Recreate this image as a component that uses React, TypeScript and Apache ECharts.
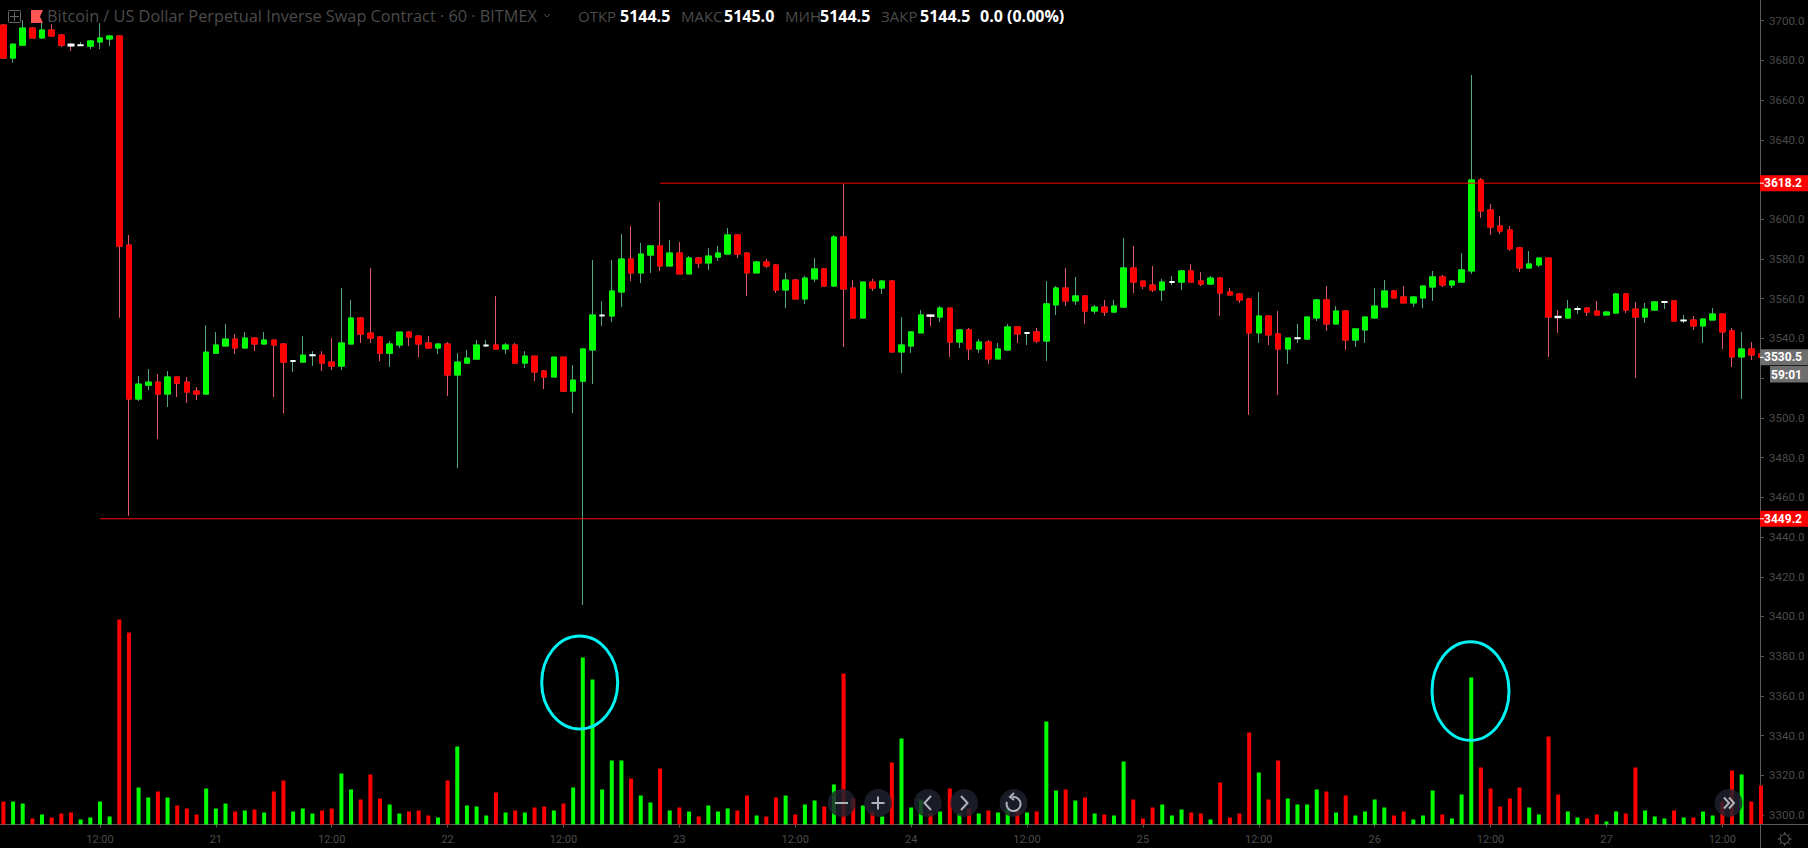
import React, { useEffect, useRef } from 'react';
import * as echarts from 'echarts';

const HOUR = 3600000;
const firstHour = Date.UTC(2019, 0, 20, 2);

const opens = [
  3697.8, 3681.2, 3687.7, 3696.3, 3691.3, 3695.3, 3692.8, 3688, 3687.6, 3687.2, 3689.3, 3690.8, 3692.3, 3587,
  3509.5, 3516.5, 3518, 3512, 3520.6, 3518, 3513.5, 3512, 3532.6, 3536.2, 3539.7, 3535.2, 3540.2, 3537.2, 3539.2, 3537.2,
  3528.6, 3528.1, 3531.5, 3531.6, 3528.1, 3526.1, 3537.2, 3550.3, 3542.7, 3540.7, 3532.6, 3536.7, 3543.2, 3541.2, 3537.7, 3535.2,
  3537.2, 3521.6, 3527.6, 3529.6, 3536.5, 3536.7, 3534.7, 3536.7, 3527.6, 3531.1, 3523.6, 3520.6, 3530.6, 3513.5, 3518.5, 3534.2,
  3551.6, 3551.3, 3563.4, 3580, 3573, 3582, 3586.6, 3576.5, 3583, 3572.5, 3580.5, 3578, 3581, 3582.5, 3592.1, 3583, 3573,
  3578.5, 3577, 3564.4, 3569.4, 3559.9, 3570, 3575, 3566.4, 3591.1, 3565.4, 3550.3, 3568.4, 3565.4, 3568.9, 3533.2, 3536.2, 3542.8,
  3551.6, 3550.8, 3555.3, 3538.2, 3544.3, 3534.7, 3538.2, 3529.7, 3534.2, 3545.8, 3542.8, 3543.3, 3538.7, 3556.9, 3565.4, 3558.9,
  3561.4, 3553.8, 3555.8, 3553.3, 3555.8, 3575.5, 3568.9, 3566.9, 3564.4, 3568.4, 3568.4, 3574, 3568.9, 3567.4, 3570.4, 3563.4,
  3562.4, 3559.9, 3542.8, 3551.3, 3542.3, 3534.7, 3540.1, 3539.7, 3550.3, 3559.4, 3547.3, 3553.8, 3539.2, 3544.3, 3550.3, 3555.8,
  3563.9, 3560.9, 3557.9, 3560.4, 3565.9, 3571, 3566.9, 3568.4, 3574, 3619.8, 3604.7, 3596.6, 3594.6, 3585.6, 3575.5, 3577, 3580.5,
  3550.9, 3550.3, 3554.8, 3555.3, 3553.8, 3551.8, 3552.8, 3562.4, 3554.8, 3550.8, 3554.3, 3558.4, 3558.9, 3549.1, 3549.3, 3546.3,
  3549.3, 3552.3, 3543.8, 3530.7, 3534.7, 3532.2,
];
const closes = [
  3681.2, 3688.2, 3696.3, 3691.3, 3695.3, 3692.3, 3687.7, 3687.5, 3687.6, 3689.8, 3691.3, 3692.3, 3586.5, 3509.5,
  3517, 3518, 3512, 3520.6, 3517.5, 3513, 3512, 3533.1, 3536.7, 3539.7, 3535.2, 3540.2, 3537.2, 3539.2, 3536.7, 3528.1,
  3528.6, 3531.6, 3531.5, 3527.6, 3526.1, 3537.7, 3550.3, 3542.2, 3540.2, 3532.6, 3537.2, 3543.2, 3540.7, 3537.2, 3535.2, 3537.2,
  3521.6, 3528.1, 3530.1, 3536.7, 3536.5, 3534.7, 3536.7, 3527.6, 3531.1, 3523.1, 3520.6, 3530.6, 3513.5, 3519, 3534.7, 3551.8,
  3551.6, 3563.9, 3580, 3573, 3582.5, 3586.6, 3576.5, 3583, 3572.5, 3580.5, 3578, 3581.5, 3583, 3592.1, 3582.5, 3573, 3578.5,
  3576.5, 3564.4, 3569.4, 3559.9, 3570.4, 3575, 3566.4, 3591.1, 3564.9, 3550.3, 3568.4, 3565.4, 3568.9, 3533.2, 3536.7, 3543.3, 3551.8,
  3551.4, 3555.3, 3538.2, 3544.3, 3534.7, 3538.2, 3529.7, 3534.7, 3545.8, 3542.3, 3542.8, 3538.7, 3557.4, 3565.4, 3558.9, 3561.4,
  3553.8, 3555.8, 3553.3, 3556.3, 3575.5, 3568.4, 3566.4, 3564.4, 3568.4, 3568.4, 3574, 3568.4, 3567.4, 3570.4, 3562.9, 3561.9,
  3559.4, 3542.8, 3551.3, 3541.8, 3534.7, 3540.2, 3540.1, 3550.8, 3559.4, 3547.3, 3553.8, 3539.2, 3544.8, 3550.8, 3556.3, 3563.9,
  3560.4, 3557.9, 3560.9, 3566.4, 3571, 3566.9, 3568.9, 3574.5, 3619.8, 3604.2, 3596.1, 3594.1, 3585.1, 3575.5, 3577.5, 3580.5, 3550.8,
  3550.7, 3554.8, 3554.8, 3553.3, 3551.8, 3553.3, 3562.4, 3554.3, 3550.8, 3554.8, 3558.4, 3558.4, 3548.8, 3549.1, 3546.3, 3549.8,
  3552.3, 3543.3, 3530.7, 3534.7, 3531.7, 3530.5,
];
const lows = [
  3681.2, 3678.8, 3687.7, 3691.3, 3691.3, 3692.3, 3686.7, 3684.7, 3687.6, 3685.7, 3685.7, 3687.2, 3550.4, 3450.7,
  3508.5, 3514, 3489.3, 3505.5, 3510.5, 3507.5, 3509, 3512, 3532.6, 3536.2, 3532.2, 3535.2, 3533.7, 3537.2, 3510.5, 3502.4,
  3523.1, 3528.1, 3526.1, 3523.6, 3524.1, 3524.1, 3537.2, 3537.7, 3537.7, 3528.6, 3525.6, 3535.2, 3536.2, 3530.6, 3535.2, 3532.2,
  3511, 3474.7, 3527.6, 3529.6, 3535.7, 3534.7, 3532.2, 3527.6, 3525.1, 3518.5, 3514.5, 3520.6, 3513, 3502.4, 3405.8, 3517,
  3546.2, 3548.3, 3555.8, 3568.9, 3567.9, 3573, 3574, 3576.5, 3572.5, 3572.5, 3575.5, 3574.5, 3579, 3582.5, 3580.5, 3561.4, 3573,
  3575.5, 3562.9, 3555.3, 3559.9, 3557.4, 3568.4, 3566.4, 3566.4, 3535.7, 3550.3, 3550.3, 3563.9, 3562.4, 3533.2, 3522.6, 3532.7, 3542.8,
  3546.3, 3548.3, 3530.7, 3535.2, 3529.2, 3532.7, 3527.2, 3529.7, 3534.2, 3537.7, 3536.7, 3537.7, 3528.7, 3551.8, 3556.3, 3556.9,
  3547.3, 3552.3, 3551.3, 3553.3, 3555.8, 3562.9, 3564.9, 3563.4, 3558.9, 3566.9, 3564.4, 3568.4, 3566.4, 3567.4, 3551.3, 3561.9,
  3557.9, 3501.5, 3537.7, 3536.7, 3511.5, 3527.2, 3537.7, 3539.7, 3548.8, 3543.8, 3547.3, 3534.2, 3535.7, 3537.7, 3550.3, 3555.8,
  3560.4, 3557.9, 3555.8, 3555.3, 3558.9, 3565.9, 3565.4, 3568.4, 3572.5, 3600.7, 3592.1, 3592.6, 3584.1, 3573.5, 3575.5, 3576, 3530.7,
  3542.8, 3550.3, 3552.3, 3551.3, 3551.8, 3551.8, 3552.3, 3552.8, 3520.1, 3547.8, 3554.3, 3554.8, 3548.8, 3547.8, 3544.3, 3537.7,
  3549.3, 3534.7, 3525.6, 3509.5, 3529.2, 3530.5,
];
const highs = [
  3698.3, 3688.2, 3700.3, 3696.8, 3699, 3698.3, 3693.3, 3688.6, 3689.3, 3690.3, 3698.8, 3692.8, 3692.8, 3592.1,
  3521.1, 3524.6, 3522.1, 3523.6, 3520.6, 3520.6, 3515.5, 3546.7, 3543.2, 3547.2, 3542.2, 3543.2, 3540.7, 3543.2, 3539.2, 3537.7,
  3529.1, 3541.2, 3533.6, 3533.6, 3540.2, 3565.4, 3559.3, 3550.8, 3575.5, 3541.2, 3538.7, 3543.2, 3543.7, 3541.7, 3541.2, 3537.2,
  3538.2, 3532.6, 3534.2, 3539.2, 3539.2, 3561.3, 3537.7, 3537.7, 3533.6, 3531.1, 3524.1, 3530.6, 3530.6, 3526.6, 3535.2, 3579.5,
  3558.8, 3579.5, 3592.6, 3596.6, 3588.1, 3586.6, 3608.7, 3589.6, 3588.6, 3581.5, 3581, 3585.5, 3586.6, 3595.6, 3592.1, 3583.5, 3579,
  3580, 3577.5, 3573, 3570, 3571.5, 3580.5, 3575.5, 3592.1, 3617.8, 3569.4, 3568.4, 3570, 3569.4, 3569.4, 3550.8, 3543.8, 3554.3,
  3552.3, 3556.3, 3555.3, 3544.8, 3545.3, 3539.7, 3539.2, 3537.7, 3547.3, 3545.8, 3543.2, 3545.3, 3568.9, 3566.4, 3575.5, 3571,
  3561.4, 3556.9, 3559.4, 3559.4, 3590.6, 3586.6, 3568.9, 3576.5, 3570, 3571.5, 3574.5, 3577.5, 3573.5, 3571.5, 3570.9, 3565.4,
  3562.9, 3560.4, 3563.4, 3551.3, 3553.8, 3540.2, 3547.3, 3550.8, 3559.9, 3566.4, 3556.3, 3554.3, 3544.8, 3550.8, 3565.4, 3569.4,
  3564.4, 3566.4, 3560.9, 3566.4, 3574, 3572, 3569.4, 3583, 3672.7, 3620.8, 3607.7, 3601.7, 3596.6, 3586.1, 3584, 3580.5, 3580.5,
  3554.3, 3559.4, 3556.3, 3555.8, 3558.9, 3553.8, 3562.9, 3562.9, 3558.4, 3557.9, 3558.4, 3558.9, 3558.9, 3551.8, 3551.3, 3549.8,
  3555.3, 3552.3, 3545.3, 3543.3, 3538.2, 3532.2,
];
const volumes = [
  23, 23, 21, 6, 10, 7, 11, 12, 5, 7, 23, 8, 205, 192, 37, 27, 33, 27, 19, 16, 10, 36, 16, 21, 13, 14, 15, 12, 33, 44,
  13, 16, 11, 14, 16, 51, 35, 25, 50, 26, 20, 11, 13, 14, 9, 7, 44, 78, 19, 18, 9, 32, 12, 14, 12, 17, 18, 14, 21, 37,
  167, 145, 35, 64, 64, 46, 29, 22, 56, 14, 17, 13, 8, 19, 13, 16, 14, 29, 9, 8, 27, 29, 10, 20, 24, 18, 40, 151, 26, 19,
  13, 8, 62, 86, 17, 25, 11, 13, 36, 11, 16, 11, 14, 12, 16, 14, 12, 13, 103, 34, 35, 24, 27, 11, 10, 9, 63, 25, 6, 17,
  20, 9, 15, 12, 11, 5, 42, 7, 11, 92, 52, 25, 64, 26, 20, 20, 35, 33, 12, 29, 9, 13, 25, 17, 9, 13, 5, 9, 34, 10,
  6, 30, 147, 57, 36, 18, 26, 37, 17, 10, 88, 30, 13, 7, 6, 10, 3, 13, 11, 57, 14, 8, 6, 14, 7, 7, 13, 9, 23, 54,
  50, 23, 39,
];

const resistance = 3618.2;
const support = 3449.2;
const lastPrice = 3530.5;
// off the canvas, or under a price tag in the reference
const unlabelledPrices = [3280, 3520, 3620, 3720];

const UP = '#00ff00';
const DOWN = '#ff0000';
const DOJI = '#ffffff';
const DIM = '#4b4b4b';
const AXIS = '#5c5c5c';
const FONT = 'Roboto, sans-serif';
const TITLE_FONT = '"Open Sans", sans-serif';

// x is the candle's index, one per hour; only noon and midnight carry a tick and a label
const candleIndex = opens.map((_, i) => i);
const dateOf = (i: number) => new Date(firstHour + i * HOUR);
const tickIndex = candleIndex.filter((i) => dateOf(i).getUTCHours() % 12 === 0);
// the plot ends where the y axis sits, a little before the last candle's centre
const xMin = -0.352;
const xMax = 181.9;

const isDoji = (i: number) => Math.abs(opens[i] - closes[i]) <= 0.5;

const wickData = candleIndex.map((i) => [i, opens[i], closes[i], lows[i], highs[i]]);
const bodyData = candleIndex.map((i) => ({
  value: [i, opens[i], closes[i], Math.min(opens[i], closes[i]), Math.max(opens[i], closes[i])],
  itemStyle: isDoji(i)
    ? { color: DOJI, color0: DOJI, borderColor: DOJI, borderColor0: DOJI, borderColorDoji: DOJI, borderWidth: 2 }
    : undefined,
}));
const volumeData = candleIndex.map((i) => ({
  value: [i, volumes[i]],
  itemStyle: { color: closes[i] < opens[i] ? DOWN : UP },
}));

const headerLabels = [
  { text: 'Bitcoin / US Dollar Perpetual Inverse Swap Contract · 60 · BITMEX', x: 47, fill: DIM, font: `16.3px ${TITLE_FONT}` },
  { text: 'ОТКР', x: 578, fill: DIM, font: `15px ${TITLE_FONT}` },
  { text: '5144.5', x: 620, fill: '#ffffff', font: `bold 16px ${TITLE_FONT}` },
  { text: 'МАКС', x: 681, fill: DIM, font: `15px ${TITLE_FONT}` },
  { text: '5145.0', x: 724, fill: '#ffffff', font: `bold 16px ${TITLE_FONT}` },
  { text: 'МИН', x: 785, fill: DIM, font: `15px ${TITLE_FONT}` },
  { text: '5144.5', x: 820, fill: '#ffffff', font: `bold 16px ${TITLE_FONT}` },
  { text: 'ЗАКР', x: 881, fill: DIM, font: `15px ${TITLE_FONT}` },
  { text: '5144.5', x: 920, fill: '#ffffff', font: `bold 16px ${TITLE_FONT}` },
  { text: '0.0 (0.00%)', x: 980, fill: '#ffffff', font: `bold 16px ${TITLE_FONT}` },
];

const iconLine = (shape: any) => ({
  type: 'polyline',
  shape: { points: shape },
  style: { stroke: '#aeb2bb', lineWidth: 2, fill: 'none' },
  z: 32,
});

const navButton = (cx: number, cy: number) => ({
  type: 'circle',
  shape: { cx, cy, r: 14 },
  style: { fill: 'rgba(30, 33, 46, 0.82)' },
  z: 30,
});

function buildDecor(priceY: (v: number) => number) {
  const tag = (value: number, text: string, fill: string) => {
    const y = priceY(value);
    return [
      { type: 'rect', shape: { x: 1760, y: y - 8, width: 48, height: 16 }, style: { fill }, z: 40 },
      { type: 'line', shape: { x1: 1760, y1: y, x2: 1764, y2: y }, style: { stroke: '#fff', lineWidth: 1 }, z: 41 },
      {
        type: 'text',
        x: 1802,
        y,
        style: { text, fill: '#fff', font: `bold 12px ${FONT}`, align: 'right', verticalAlign: 'middle' },
        z: 41,
      },
    ];
  };
  return [
    ...headerLabels.map((h) => ({
      type: 'text',
      x: h.x,
      y: 16,
      style: { text: h.text, fill: h.fill, font: h.font, verticalAlign: 'middle' },
      z: 20,
    })),
    // header icons
    { type: 'rect', shape: { x: 8.5, y: 10.5, width: 12, height: 12, r: 1 }, style: { stroke: '#666', fill: 'none' }, z: 20 },
    { type: 'line', shape: { x1: 14.5, y1: 12, x2: 14.5, y2: 21 }, style: { stroke: '#666' }, z: 20 },
    { type: 'line', shape: { x1: 10, y1: 16.5, x2: 19, y2: 16.5 }, style: { stroke: '#666' }, z: 20 },
    {
      type: 'polygon',
      shape: { points: [[31, 10], [43, 10], [40, 16.5], [43, 23], [31, 23]] },
      style: { fill: '#ff5555' },
      z: 20,
    },
    { type: 'polyline', shape: { points: [[544, 14], [547, 17], [550, 14]] }, style: { stroke: DIM, fill: 'none', lineWidth: 1 }, z: 20 },
    // circled volume spikes
    { type: 'ellipse', shape: { cx: 579.7, cy: 682.5, rx: 38, ry: 46.5 }, style: { stroke: '#00f2f2', lineWidth: 3, fill: 'none' }, z: 25 },
    { type: 'ellipse', shape: { cx: 1470.5, cy: 691, rx: 38.5, ry: 49.3 }, style: { stroke: '#00f2f2', lineWidth: 3, fill: 'none' }, z: 25 },
    // chart navigation buttons
    navButton(841.6, 803),
    iconLine([[835, 803], [848, 803]]),
    navButton(878, 803),
    iconLine([[871.5, 803], [884.5, 803]]),
    iconLine([[878, 796.5], [878, 809.5]]),
    navButton(927.8, 803),
    iconLine([[931, 796], [924.5, 803], [931, 810]]),
    navButton(964.2, 803),
    iconLine([[961, 796], [967.5, 803], [961, 810]]),
    navButton(1013.6, 803),
    {
      type: 'arc',
      shape: { cx: 1013.6, cy: 804, r: 7, startAngle: -Math.PI * 0.55, endAngle: Math.PI * 1.1, clockwise: true },
      style: { stroke: '#aeb2bb', lineWidth: 2, fill: 'none' },
      z: 32,
    },
    iconLine([[1014, 793], [1010, 797], [1014, 800]]),
    navButton(1728.5, 803),
    iconLine([[1724, 797.5], [1729, 803], [1724, 808.5]]),
    iconLine([[1729, 797.5], [1734, 803], [1729, 808.5]]),
    // axis corner
    { type: 'line', shape: { x1: 1760, y1: 824.5, x2: 1808, y2: 824.5 }, style: { stroke: AXIS }, z: 20 },
    { type: 'circle', shape: { cx: 1784.7, cy: 839, r: 4.5 }, style: { stroke: '#666', fill: 'none', lineWidth: 1 }, z: 20 },
    ...[0, 1, 2, 3, 4, 5, 6, 7].map((k) => {
      const a = (k * Math.PI) / 4;
      return {
        type: 'line',
        shape: {
          x1: 1784.7 + Math.cos(a) * 4.5,
          y1: 839 + Math.sin(a) * 4.5,
          x2: 1784.7 + Math.cos(a) * 7,
          y2: 839 + Math.sin(a) * 7,
        },
        style: { stroke: '#666', lineWidth: 1 },
        z: 20,
      };
    }),
    // price tags
    ...tag(resistance, '3618.2', DOWN),
    ...tag(support, '3449.2', DOWN),
    ...tag(lastPrice, '3530.5', '#6e6e6e'),
    { type: 'rect', shape: { x: 1770, y: 366, width: 38, height: 16.5 }, style: { fill: '#6e6e6e' }, z: 40 },
    {
      type: 'text',
      x: 1802,
      y: 374.5,
      style: { text: '59:01', fill: '#fff', font: `bold 12px ${FONT}`, align: 'right', verticalAlign: 'middle' },
      z: 41,
    },
  ];
}

const App: React.FC = () => {
  const chartRef = useRef<HTMLDivElement>(null);

  useEffect(() => {
    if (!chartRef.current) return;
    const myChart = echarts.init(chartRef.current, undefined, { renderer: 'svg' });

    const option: any = {
      animation: false,
      backgroundColor: '#000000',
      // price grid runs past the canvas so both y ends fall on multiples of 20
      grid: [
        { left: 0, right: 48, top: -19, height: 873.8, outerBoundsMode: 'none' },
        { left: 0, right: 48, top: 0, height: 824.5, outerBoundsMode: 'none' },
      ],
      xAxis: [
        { type: 'value', gridIndex: 0, min: xMin, max: xMax, show: false },
        {
          type: 'value',
          gridIndex: 1,
          min: xMin,
          max: xMax,
          splitLine: { show: false },
          axisLine: { onZero: false, lineStyle: { color: AXIS } },
          axisTick: { length: 3, lineStyle: { color: AXIS }, customValues: tickIndex },
          axisLabel: {
            color: DIM,
            fontFamily: FONT,
            fontSize: 11,
            margin: 9,
            hideOverlap: false,
            customValues: tickIndex,
            formatter: (value: number) => {
              const d = dateOf(value);
              return d.getUTCHours() === 12 ? '12:00' : String(d.getUTCDate());
            },
          },
        },
      ],
      yAxis: [
        {
          type: 'value',
          gridIndex: 0,
          position: 'right',
          min: 3280,
          max: 3720,
          interval: 20,
          splitLine: { show: false },
          axisLine: { show: true, onZero: false, lineStyle: { color: AXIS } },
          axisTick: { show: true, length: 4, lineStyle: { color: AXIS } },
          axisLabel: {
            color: DIM,
            fontFamily: FONT,
            fontSize: 11.5,
            margin: 9,
            formatter: (value: number) => (unlabelledPrices.includes(value) ? '' : value.toFixed(1)),
          },
        },
        { type: 'value', gridIndex: 1, min: 0, max: 824.5, show: false },
      ],
      series: [
        {
          name: 'Volume',
          type: 'bar',
          xAxisIndex: 1,
          yAxisIndex: 1,
          barWidth: 4,
          data: volumeData,
          z: 1,
        },
        {
          name: 'Wicks',
          type: 'candlestick',
          xAxisIndex: 0,
          yAxisIndex: 0,
          barWidth: 6,
          itemStyle: {
            color: '#4fa97c',
            color0: '#e0566a',
            borderColor: '#4fa97c',
            borderColor0: '#e0566a',
            borderColorDoji: '#4fa97c',
            borderWidth: 1,
          },
          data: wickData,
          z: 2,
        },
        {
          name: 'Bodies',
          type: 'candlestick',
          xAxisIndex: 0,
          yAxisIndex: 0,
          barWidth: 6,
          itemStyle: {
            color: UP,
            color0: DOWN,
            borderColor: UP,
            borderColor0: DOWN,
            borderColorDoji: DOJI,
            borderWidth: 1,
          },
          data: bodyData,
          z: 3,
        },
        {
          name: 'Resistance',
          type: 'line',
          xAxisIndex: 0,
          yAxisIndex: 0,
          symbol: 'none',
          lineStyle: { color: DOWN, width: 1 },
          data: [[68, resistance], [xMax, resistance]],
          z: 4,
        },
        {
          name: 'Support',
          type: 'line',
          xAxisIndex: 0,
          yAxisIndex: 0,
          symbol: 'none',
          lineStyle: { color: DOWN, width: 1 },
          data: [[10, support], [xMax, support]],
          z: 4,
        },
      ],
    };
    myChart.setOption(option);
    const priceY = (v: number) => myChart.convertToPixel({ yAxisIndex: 0 }, v) as number;
    myChart.setOption({ graphic: buildDecor(priceY) });

    return () => {
      myChart.dispose();
    };
  }, []);

  return (
    <div
      ref={chartRef}
      style={{ position: 'fixed', left: 0, top: 0, width: 1808, height: 848, background: '#000' }}
    />
  );
};

export default App;
